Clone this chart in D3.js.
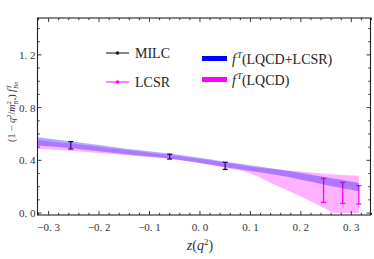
<!DOCTYPE html>
<html>
<head>
<meta charset="utf-8">
<script src="https://cdn.jsdelivr.net/npm/d3@7"></script>
<style>
  body { margin: 0; background: #fff; }
  svg { display: block; }
</style>
</head>
<body>
<svg id="chart" width="374" height="259"></svg>
<script>
const width = 374;
const height = 259;

// f^T(LQCD+LCSR) band
const bandBothZ  = [-0.322, -0.25, -0.15, -0.06, 0.05, 0.15, 0.25, 0.315];
const bandBothHi = [0.575, 0.54, 0.49, 0.452, 0.39, 0.335, 0.272, 0.228];
const bandBothLo = [0.512, 0.49, 0.448, 0.413, 0.348, 0.29, 0.213, 0.165];

// f^T(LQCD) band
const bandLqcdZ  = [-0.322, -0.25, -0.15, -0.06, 0.05, 0.1, 0.15, 0.2, 0.25, 0.266, 0.315];
const bandLqcdHi = [0.555, 0.525, 0.48, 0.44, 0.383, 0.352, 0.333, 0.315, 0.297, 0.292, 0.282];
const bandLqcdLo = [0.487, 0.47, 0.44, 0.41, 0.345, 0.3, 0.21, 0.125, 0.03, 0.0, 0.0];

// MILC lattice points
const milcZ   = [-0.256, -0.060, 0.050];
const milcVal = [0.514, 0.428, 0.358];
const milcErr = [0.028, 0.018, 0.027];

// LCSR points
const lcsrZ   = [0.245, 0.283, 0.315];
const lcsrVal = [0.172, 0.153, 0.138];
const lcsrErr = [0.091, 0.080, 0.070];

const xTicks = [-0.3, -0.2, -0.1, 0.0, 0.1, 0.2, 0.3];
const yTicks = [0.0, 0.4, 0.8, 1.2];

const serif = "'Liberation Serif', 'DejaVu Serif', 'Times New Roman', serif";

const svg = d3.select("#chart").attr("font-family", serif);

const x = d3.scaleLinear().domain([-0.322, 0.338]).range([37.5, 370.5]);
const y = d3.scaleLinear().domain([-0.015, 1.48]).range([215, 18]);

const fmt = v => d3.format(".1f")(v).replace("-", "\u2212").replace(".", ". ");

function band(zs, lo, hi) {
  return d3.area()
    .x((d, i) => x(zs[i]))
    .y0((d, i) => y(lo[i]))
    .y1((d, i) => y(hi[i]))
    .curve(d3.curveMonotoneX)(zs);
}

// error bars sit under the translucent bands
function errorBars(zs, vals, errs, color) {
  const g = svg.append("g").attr("stroke", color).attr("stroke-width", 1.3).attr("fill", "none");
  zs.forEach((z, i) => {
    const cx = x(z), t = y(vals[i] + errs[i]), b = y(vals[i] - errs[i]);
    g.append("line").attr("x1", cx).attr("x2", cx).attr("y1", t).attr("y2", b);
    g.append("line").attr("x1", cx - 2.5).attr("x2", cx + 2.5).attr("y1", t).attr("y2", t);
    g.append("line").attr("x1", cx - 2.5).attr("x2", cx + 2.5).attr("y1", b).attr("y2", b);
  });
}

errorBars(milcZ, milcVal, milcErr, "#111");
errorBars(lcsrZ, lcsrVal, lcsrErr, "#ff00ff");

svg.append("path")
  .attr("d", band(bandLqcdZ, bandLqcdLo, bandLqcdHi))
  .attr("fill", "#ff00ff").attr("fill-opacity", 0.3);

svg.append("path")
  .attr("d", band(bandBothZ, bandBothLo, bandBothHi))
  .attr("fill", "#0000ff").attr("fill-opacity", 0.32);

// frame and ticks
const [x0, x1] = x.range();
const [yb, yt] = y.range();

svg.append("rect")
  .attr("x", x0).attr("y", yt).attr("width", x1 - x0).attr("height", yb - yt)
  .attr("fill", "none").attr("stroke", "#222").attr("stroke-width", 1.1);

const tickG = svg.append("g").attr("stroke", "#222").attr("stroke-width", 0.9);
const xMinor = d3.range(-0.32, 0.3401, 0.02).map(v => +v.toFixed(2));
xMinor.forEach(v => {
  const major = Math.abs(Math.round(v * 10) - v * 10) < 1e-6;
  const len = major ? 4 : 2.2;
  tickG.append("line").attr("x1", x(v)).attr("x2", x(v)).attr("y1", yb).attr("y2", yb - len);
  tickG.append("line").attr("x1", x(v)).attr("x2", x(v)).attr("y1", yt).attr("y2", yt + len);
});
const yMinor = d3.range(0, 1.4001, 0.1).map(v => +v.toFixed(1));
yMinor.forEach(v => {
  const major = Math.abs(Math.round(v / 0.4) * 0.4 - v) < 1e-6;
  const len = major ? 4 : 2.2;
  tickG.append("line").attr("x1", x0).attr("x2", x0 + len).attr("y1", y(v)).attr("y2", y(v));
  tickG.append("line").attr("x1", x1).attr("x2", x1 - len).attr("y1", y(v)).attr("y2", y(v));
});

// tick labels
svg.append("g").selectAll("text").data(xTicks).join("text")
  .attr("x", d => x(d)).attr("y", 231)
  .attr("text-anchor", "middle").attr("font-size", 11).attr("fill", "#333")
  .text(fmt);

svg.append("g").selectAll("text").data(yTicks).join("text")
  .attr("x", x0 - 2).attr("y", d => y(d) + 4)
  .attr("text-anchor", "end").attr("font-size", 11).attr("fill", "#333")
  .text(fmt);

// axis labels
const xl = svg.append("text").attr("x", 200).attr("y", 250)
  .attr("text-anchor", "middle").attr("font-size", 14).attr("fill", "#333");
xl.append("tspan").attr("font-style", "italic").text("z");
xl.append("tspan").text("(");
xl.append("tspan").attr("font-style", "italic").text("q");
xl.append("tspan").attr("font-size", 9).attr("dy", -5).text("2");
xl.append("tspan").attr("dy", 5).text(")");

const yl = svg.append("text")
  .attr("transform", "translate(15,112) rotate(-90)")
  .attr("text-anchor", "middle").attr("font-size", 10).attr("fill", "#333");
yl.append("tspan").text("(1 \u2212 ");
yl.append("tspan").attr("font-style", "italic").text("q");
yl.append("tspan").attr("font-size", 7).attr("dy", -4).text("2");
yl.append("tspan").attr("dy", 4).text("/");
yl.append("tspan").attr("font-style", "italic").text("m");
yl.append("tspan").attr("font-size", 7).attr("dy", -4).text("2");
yl.append("tspan").attr("font-size", 6).attr("font-style", "italic").attr("dx", -3.5).attr("dy", 6.5).text("B*");
yl.append("tspan").attr("dy", -2.5).text(") ");
yl.append("tspan").attr("font-style", "italic").text("f");
yl.append("tspan").attr("font-size", 7).attr("font-style", "italic").attr("dx", 0.5).attr("dy", -4).text("T");
yl.append("tspan").attr("font-size", 6).attr("font-style", "italic").attr("dx", -4).attr("dy", 6.5).text("B\u03c0");

// legend
const legLines = [
  { label: "MILC", color: "#111", y: 53 },
  { label: "LCSR", color: "#ff00ff", y: 82 }
];
legLines.forEach(d => {
  svg.append("line").attr("x1", 106).attr("x2", 129).attr("y1", d.y).attr("y2", d.y)
    .attr("stroke", d.color).attr("stroke-width", 1);
  svg.append("circle").attr("cx", 117.5).attr("cy", d.y).attr("r", 1.8).attr("fill", d.color);
  svg.append("text").attr("x", 135).attr("y", d.y + 5).attr("font-size", 14).attr("fill", "#222").text(d.label);
});

const legBands = [
  { label: "(LQCD+LCSR)", color: "#0000ff", y: 58.5 },
  { label: "(LQCD)", color: "#ff00ff", y: 79.5 }
];
legBands.forEach(d => {
  svg.append("rect").attr("x", 202).attr("y", d.y - 2.5).attr("width", 25).attr("height", 5).attr("fill", d.color);
  const t = svg.append("text").attr("x", 232).attr("y", d.y + 5).attr("font-size", 14).attr("fill", "#222");
  t.append("tspan").attr("font-style", "italic").text("f");
  t.append("tspan").attr("font-size", 9).attr("font-style", "italic").attr("dx", 1).attr("dy", -6).text("T");
  t.append("tspan").attr("dy", 6).text(d.label);
});
</script>
</body>
</html>
